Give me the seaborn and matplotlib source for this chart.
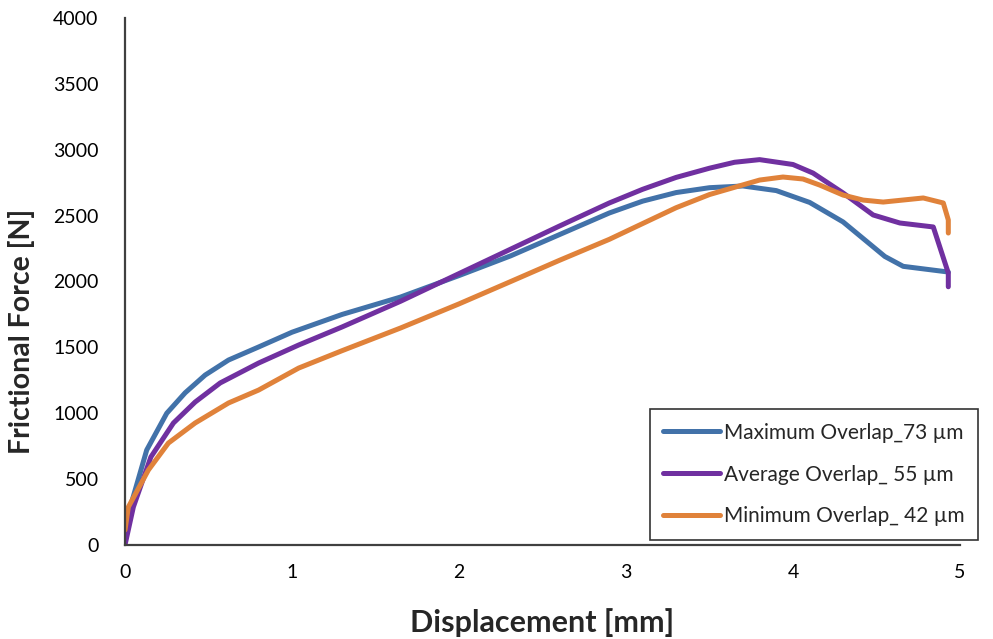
import matplotlib
matplotlib.use("Agg")
import matplotlib.pyplot as plt
import seaborn as sns
import pandas as pd

labels = ["Maximum Overlap_73 µm", "Average Overlap_ 55 µm", "Minimum Overlap_ 42 µm"]
colors = ["#4272A9", "#7030A0", "#E0823A"]

x_max = [0, 0.13, 0.25, 0.36, 0.48, 0.62, 0.80, 1.0, 1.3, 1.65, 2.0, 2.31, 2.6, 2.9,
         3.1, 3.3, 3.5, 3.7, 3.9, 4.1, 4.3, 4.55, 4.66, 4.93]
y_max = [150, 721, 1000, 1155, 1290, 1404, 1503, 1615, 1750, 1882, 2045, 2195, 2355, 2520,
         2610, 2675, 2712, 2725, 2690, 2600, 2452, 2190, 2115, 2072]

x_avg = [0, 0.05, 0.155, 0.29, 0.42, 0.57, 0.80, 1.04, 1.3, 1.65, 2.0, 2.3, 2.6, 2.9,
         3.1, 3.3, 3.5, 3.65, 3.8, 4.0, 4.12, 4.3, 4.48, 4.64, 4.84, 4.93, 4.93]
y_avg = [0, 288, 668, 926, 1085, 1230, 1381, 1518, 1655, 1850, 2060, 2240, 2420, 2596,
         2700, 2790, 2860, 2905, 2925, 2888, 2823, 2672, 2505, 2444, 2414, 2064, 1960]

x_min = [0, 0.02, 0.14, 0.26, 0.42, 0.62, 0.80, 1.04, 1.3, 1.65, 2.0, 2.31, 2.6, 2.9,
         3.1, 3.3, 3.5, 3.65, 3.80, 3.94, 4.06, 4.16, 4.30, 4.42, 4.54, 4.78, 4.90, 4.93, 4.93]
y_min = [114, 288, 569, 774, 926, 1078, 1176, 1343, 1475, 1647, 1830, 2000, 2160, 2320,
         2440, 2560, 2660, 2715, 2770, 2793, 2778, 2732, 2656, 2618, 2603, 2634, 2596, 2467, 2368]

x_ticks = [0, 1, 2, 3, 4, 5]
y_ticks = [0, 500, 1000, 1500, 2000, 2500, 3000, 3500, 4000]

frames = []
for lab, xs, ys in zip(labels, [x_max, x_avg, x_min], [y_max, y_avg, y_min]):
    frames.append(pd.DataFrame({"x": xs, "y": ys, "series": lab}))
df = pd.concat(frames, ignore_index=True)

sns.set_style("white")
plt.rcParams['font.family'] = ['Lato', 'DejaVu Sans']

fig = plt.figure(figsize=(9.93, 6.39), dpi=100)
ax = fig.add_axes([125/993, 94/639, 835/993, 527/639])

sns.lineplot(data=df, x="x", y="y", hue="series", hue_order=labels,
             palette=colors, sort=False, estimator=None, linewidth=3.6,
             ax=ax, solid_capstyle="round", solid_joinstyle="round")

ax.set_xlim(0, 5)
ax.set_ylim(0, 4000)
ax.set_xticks(x_ticks)
ax.set_yticks(y_ticks)
ax.tick_params(axis="both", length=0, labelsize=14, colors="#000000")
ax.tick_params(axis="y", pad=19)
ax.tick_params(axis="x", pad=14)
for s in ["top", "right"]:
    ax.spines[s].set_visible(False)
for s in ["left", "bottom"]:
    ax.spines[s].set_color("#404040")
    ax.spines[s].set_linewidth(1.6)

ax.set_xlabel("Displacement [mm]", fontsize=22, fontweight="bold", labelpad=19)
ax.set_ylabel("Frictional Force [N]", fontsize=20.5, fontweight="bold")
ax.yaxis.set_label_coords(-0.108, 0.406)

leg = ax.legend(loc="lower right", bbox_to_anchor=(978/993, 99/639),
                bbox_transform=fig.transFigure, fontsize=15,
                frameon=True, fancybox=False, edgecolor="#000000",
                handlelength=2.7, handletextpad=0.2, labelspacing=1.05,
                borderpad=0.65, borderaxespad=0)
leg.get_frame().set_linewidth(1.2)
for line in leg.get_lines():
    line.set_linewidth(3.6)
    line.set_solid_capstyle("round")

fig.savefig("out.png", dpi=100)
